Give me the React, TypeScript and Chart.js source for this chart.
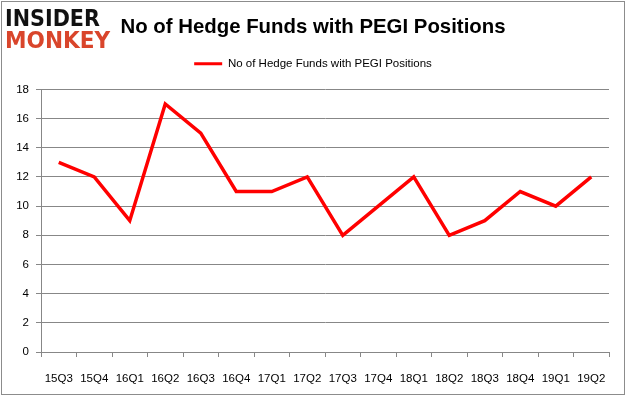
import React, { useEffect, useRef } from "react";
import { Chart, registerables, layouts } from "chart.js";

Chart.register(...registerables);

const categories = ["15Q3", "15Q4", "16Q1", "16Q2", "16Q3", "16Q4", "17Q1", "17Q2", "17Q3", "17Q4", "18Q1", "18Q2", "18Q3", "18Q4", "19Q1", "19Q2"];
const hedgeFunds = [13, 12, 9, 17, 15, 11, 11, 12, 8, 10, 12, 8, 9, 11, 10, 12];
const seriesLabel = "No of Hedge Funds with PEGI Positions";
const titleText = "No of Hedge Funds with PEGI Positions";
const yMin = 0;
const yMax = 18;
const yStep = 2;

const GRID = "#878787";
const FONT = "'Liberation Sans', Arial, sans-serif";

function makeSpacer(position: string, size: number, weight: number) {
  const horizontal = position === "top" || position === "bottom";
  const box: any = {
    position,
    weight,
    fullSize: horizontal,
    options: { stackWeight: 1 },
    width: 0,
    height: 0,
    top: 0,
    left: 0,
    right: 0,
    bottom: 0,
    isHorizontal() {
      return horizontal;
    },
    update(maxWidth: number, maxHeight: number) {
      if (horizontal) {
        box.width = maxWidth;
        box.height = size;
      } else {
        box.width = size;
        box.height = maxHeight;
      }
    },
    getPadding() {
      return { top: 0, left: 0, right: 0, bottom: 0 };
    },
    draw() {},
  };
  return box;
}

const spacerPlugin = {
  id: "spacers",
  beforeInit(chart: any) {
    layouts.addBox(chart, makeSpacer("top", 10, 500));
    layouts.addBox(chart, makeSpacer("right", 17, 0));
  },
};

export default function App() {
  const ref = useRef<HTMLCanvasElement | null>(null);

  useEffect(() => {
    if (!ref.current) return;
    const chart = new Chart(ref.current, {
      type: "line",
      data: {
        labels: categories,
        datasets: [
          {
            label: seriesLabel,
            data: hedgeFunds,
            borderColor: "#ff0000",
            backgroundColor: "#ff0000",
            borderWidth: 3.5,
            pointRadius: 0,
            tension: 0,
          },
        ],
      },
      plugins: [spacerPlugin],
      options: {
        responsive: false,
        animation: false,
        layout: { padding: { top: 3, left: 0, right: 0, bottom: 0 } },
        plugins: {
          title: {
            display: true,
            text: titleText,
            color: "#000000",
            font: { family: FONT, size: 20.4, weight: "bold", lineHeight: 1 },
            padding: { top: 14, bottom: 0 },
          },
          legend: {
            display: true,
            position: "top",
            labels: {
              color: "#000000",
              font: { family: FONT, size: 11.5 },
              padding: 20.5,
              boxWidth: 28,
              boxHeight: 3,
              generateLabels: () => [
                {
                  text: seriesLabel,
                  fillStyle: "#ff0000",
                  strokeStyle: "#ff0000",
                  lineWidth: 0,
                  hidden: false,
                  datasetIndex: 0,
                  fontColor: "#000000",
                },
              ],
            },
          },
          tooltip: { enabled: false },
        },
        scales: {
          x: {
            offset: true,
            grid: {
              offset: true,
              drawOnChartArea: false,
              drawTicks: true,
              tickLength: 5,
              color: GRID,
            },
            border: { color: GRID },
            ticks: {
              color: "#000000",
              font: { family: FONT, size: 11.5 },
              padding: 15,
              maxRotation: 0,
              autoSkip: false,
            },
            afterFit: (scale: any) => {
              scale.height = 45;
            },
          },
          y: {
            min: yMin,
            max: yMax,
            grid: { color: GRID, tickLength: 5 },
            border: { color: GRID },
            ticks: {
              stepSize: yStep,
              color: "#000000",
              font: { family: FONT, size: 11.5 },
              padding: 7,
            },
            afterFit: (scale: any) => {
              scale.width = 41;
            },
          },
        },
      },
    });
    return () => chart.destroy();
  }, []);

  return (
    <div style={{ position: "fixed", left: 0, top: 0, width: 626, height: 397, background: "#ffffff" }}>
      <canvas ref={ref} width={626} height={397} style={{ position: "absolute", left: 0, top: 0, width: 626, height: 397 }} />
      <div
        style={{
          position: "absolute",
          left: 1,
          top: 1,
          width: 622,
          height: 392,
          border: "1px solid #8c8c8c",
          pointerEvents: "none",
        }}
      />
      <div
        style={{
          position: "absolute",
          left: 5,
          top: 7,
          fontFamily: "'DejaVu Sans', sans-serif",
          fontWeight: 900,
          fontSize: 23,
          lineHeight: "22px",
          color: "#111111",
          transform: "scaleX(0.9)",
          transformOrigin: "left top",
          whiteSpace: "nowrap",
        }}
      >
        INSIDER
      </div>
      <div
        style={{
          position: "absolute",
          left: 5,
          top: 29,
          fontFamily: "'DejaVu Sans', sans-serif",
          fontWeight: 900,
          fontSize: 23,
          lineHeight: "22px",
          color: "#d9452b",
          transform: "scaleX(0.94)",
          transformOrigin: "left top",
          whiteSpace: "nowrap",
        }}
      >
        MONKEY
      </div>
    </div>
  );
}
